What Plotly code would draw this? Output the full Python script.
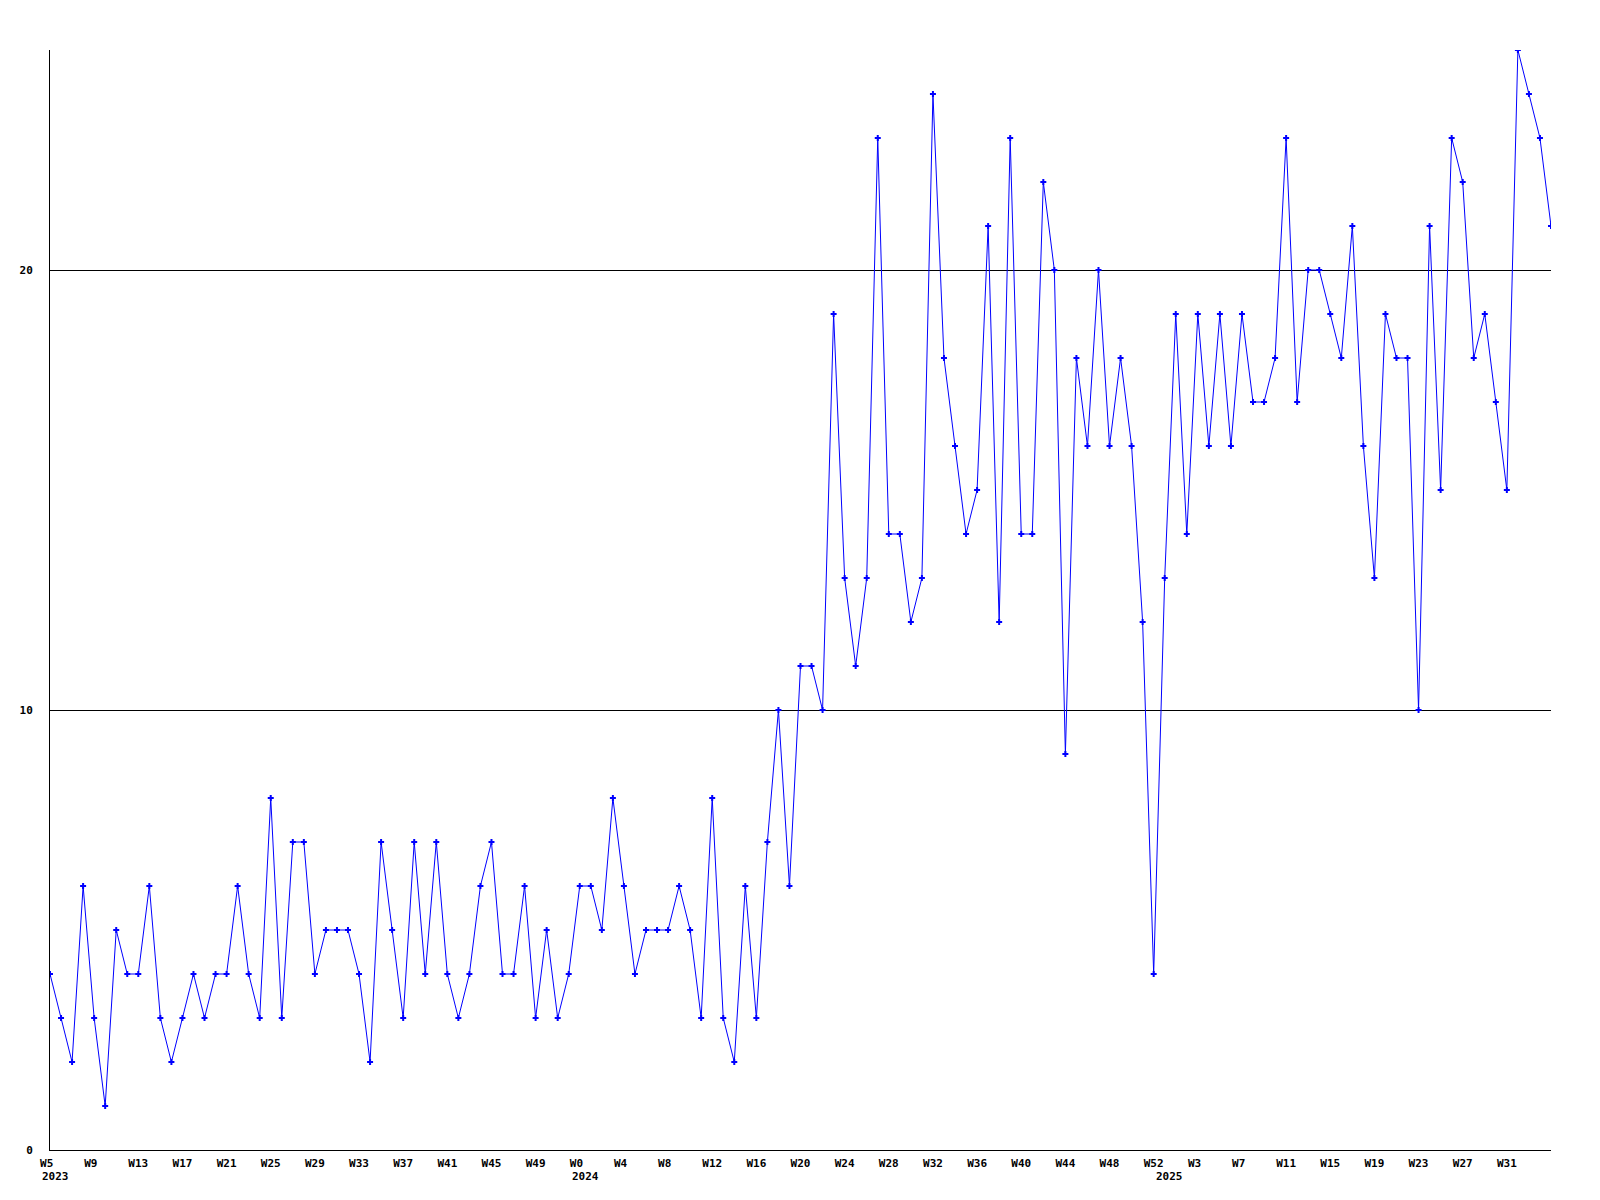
import plotly.graph_objects as go

# Weekly values, 2023 W5 .. 2025 W35
values = [4, 3, 2, 6, 3, 1, 5, 4, 4, 6,
          3, 2, 3, 4, 3, 4, 4, 6, 4, 3,
          8, 3, 7, 7, 4, 5, 5, 5, 4, 2,
          7, 5, 3, 7, 4, 7, 4, 3, 4, 6,
          7, 4, 4, 6, 3, 5, 3, 4, 6, 6,
          5, 8, 6, 4, 5, 5, 5, 6, 5, 3,
          8, 3, 2, 6, 3, 7, 10, 6, 11, 11,
          10, 19, 13, 11, 13, 23, 14, 14, 12, 13,
          24, 18, 16, 14, 15, 21, 12, 23, 14, 14,
          22, 20, 9, 18, 16, 20, 16, 18, 16, 12,
          4, 13, 19, 14, 19, 16, 19, 16, 19, 17,
          17, 18, 23, 17, 20, 20, 19, 18, 21, 16,
          13, 19, 18, 18, 10, 21, 15, 23, 22, 18,
          19, 17, 15, 25, 24, 23, 21]

week_tick_labels = ["W5", "W9", "W13", "W17", "W21", "W25", "W29", "W33", "W37", "W41", "W45", "W49",
                    "W0", "W4", "W8", "W12", "W16", "W20", "W24", "W28", "W32", "W36", "W40", "W44",
                    "W48", "W52",
                    "W3", "W7", "W11", "W15", "W19", "W23", "W27", "W31"]
tick_step = 4
year_labels = ["2023", "2024", "2025"]
year_positions = [0, 48, 100.9]

y_ticks = [0, 10, 20]
y_max = 25

x = list(range(len(values)))
tickvals = [i * tick_step for i in range(len(week_tick_labels))]
ticktext = [t + "\u00a0" * (3 - len(t)) for t in week_tick_labels]

font = dict(family="DejaVu Sans Mono", size=11, color="black", weight="bold")

fig = go.Figure()
fig.add_trace(go.Scatter(
    x=x, y=values, mode="lines+markers",
    line=dict(color="#0000ff", width=1),
    marker=dict(symbol="cross", size=5, color="#0000ff", line=dict(width=0)),
    showlegend=False,
))

for lab, pos in zip(year_labels, year_positions):
    fig.add_annotation(x=pos, y=-0.0245, xref="x", yref="paper", text=lab,
                       showarrow=False, xanchor="left", yanchor="middle",
                       xshift=-10, font=font)

fig.update_layout(
    width=1600, height=1200,
    margin=dict(l=42, r=57, t=42, b=58),
    paper_bgcolor="white", plot_bgcolor="white",
    font=font,
)
fig.update_xaxes(
    range=[0, len(values) - 1], tickvals=tickvals, ticktext=ticktext,
    showgrid=False, zeroline=False, showline=True, linecolor="black", linewidth=1,
    ticks="", tickfont=font, ticklabelstandoff=3,
)
fig.update_yaxes(
    range=[0, y_max], tickvals=y_ticks, showgrid=True, gridcolor="black", gridwidth=1,
    zeroline=False, showline=True, linecolor="black", linewidth=1,
    ticks="", tickfont=font, ticklabelstandoff=14,
)

fig.write_html("out.html")
